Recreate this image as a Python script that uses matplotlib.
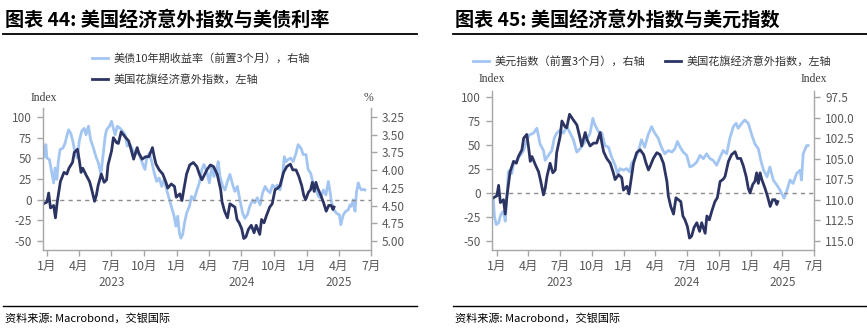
import matplotlib
matplotlib.use('Agg')
import matplotlib.pyplot as plt
import matplotlib.transforms as mtransforms
from matplotlib.lines import Line2D
import pandas as pd

plt.rcParams['font.family'] = ['Noto Sans CJK SC', 'DejaVu Sans']
plt.rcParams['axes.unicode_minus'] = False

# ---------------- data ----------------
# Citi US economic surprise index (left axis, both charts)
surprise_dates = [
    "2022-12-22", "2023-01-01", "2023-01-06", "2023-01-11", "2023-01-20", "2023-01-25", "2023-01-30",
    "2023-02-08", "2023-02-18", "2023-02-26", "2023-03-04", "2023-03-14", "2023-03-19", "2023-03-28",
    "2023-04-02", "2023-04-07", "2023-04-12", "2023-04-21", "2023-05-01", "2023-05-06", "2023-05-10",
    "2023-05-15", "2023-05-20", "2023-05-25", "2023-06-03", "2023-06-11", "2023-06-18", "2023-06-22",
    "2023-07-02", "2023-07-07", "2023-07-16", "2023-07-21", "2023-07-29", "2023-08-09", "2023-08-19",
    "2023-08-27", "2023-09-02", "2023-09-12", "2023-09-17", "2023-09-26", "2023-10-06", "2023-10-15",
    "2023-10-25", "2023-10-30", "2023-11-04", "2023-11-13", "2023-11-23", "2023-12-02", "2023-12-07",
    "2023-12-17", "2023-12-26", "2023-12-31", "2024-01-10", "2024-01-16", "2024-01-22", "2024-01-29",
    "2024-02-07", "2024-02-17", "2024-02-27", "2024-03-05", "2024-03-12", "2024-03-17", "2024-03-26",
    "2024-04-05", "2024-04-14", "2024-04-24", "2024-05-04", "2024-05-08", "2024-05-15", "2024-05-23",
    "2024-05-30", "2024-06-06", "2024-06-13", "2024-06-19", "2024-06-25", "2024-07-02", "2024-07-08",
    "2024-07-14", "2024-07-21", "2024-07-29", "2024-08-06", "2024-08-12", "2024-08-22", "2024-08-27",
    "2024-09-03", "2024-09-10", "2024-09-19", "2024-09-26", "2024-10-04", "2024-10-12", "2024-10-18",
    "2024-10-28", "2024-11-06", "2024-11-16", "2024-11-23", "2024-12-02", "2024-12-10", "2024-12-18",
    "2024-12-24", "2024-12-29", "2025-01-06", "2025-01-12", "2025-01-17", "2025-01-22", "2025-01-27",
    "2025-02-01", "2025-02-10", "2025-02-17", "2025-02-25", "2025-03-04", "2025-03-11", "2025-03-16",
    "2025-03-19",
]
surprise_vals = [
    -5, -3, 8, -10, -7, -22, -3,
    22, 33, 31, 38, 45, 57, 61,
    48, 33, 38, 30, 22, 14, 7,
    -2, 5, 17, 31, 21, 24, 42,
    59, 75, 69, 68, 82, 76, 71,
    59, 49, 63, 56, 49, 52, 52,
    63, 52, 43, 36, 31, 21, 14,
    19, 16, 3, 7, -1, 14, 31,
    42, 45, 40, 31, 24, 28, 36,
    42, 40, 31, 12, -3, -14, -22,
    -5, -7, -9, -24, -28, -35, -47,
    -45, -36, -31, -40, -31, -42, -24,
    -28, -19, -9, -5, 12, 14, 17,
    33, 40, 43, 36, 36, 28, 17,
    5, 0, 9, 12, 21, 10, 21,
    14, 5, -3, -14, -7, -7, -12,
    -9,
]

# US 10Y Treasury yield, led 3 months (right axis, chart 44)
ust_dates = [
    "2022-12-25", "2022-12-29", "2023-01-01", "2023-01-08", "2023-01-15", "2023-01-20", "2023-01-24",
    "2023-01-29", "2023-02-02", "2023-02-07", "2023-02-15", "2023-02-21", "2023-02-26", "2023-03-03",
    "2023-03-09", "2023-03-15", "2023-03-21", "2023-03-28", "2023-04-02", "2023-04-09", "2023-04-16",
    "2023-04-21", "2023-04-28", "2023-05-04", "2023-05-12", "2023-05-19", "2023-05-26", "2023-06-02",
    "2023-06-07", "2023-06-14", "2023-06-18", "2023-06-26", "2023-07-02", "2023-07-07", "2023-07-12",
    "2023-07-18", "2023-07-26", "2023-08-02", "2023-08-09", "2023-08-15", "2023-08-23", "2023-08-30",
    "2023-09-06", "2023-09-13", "2023-09-20", "2023-09-28", "2023-10-04", "2023-10-09", "2023-10-16",
    "2023-10-23", "2023-10-29", "2023-11-06", "2023-11-13", "2023-11-20", "2023-11-27", "2023-12-04",
    "2023-12-12", "2023-12-18", "2023-12-25", "2023-12-30", "2024-01-04", "2024-01-09", "2024-01-13",
    "2024-01-18", "2024-01-23", "2024-01-29", "2024-02-06", "2024-02-12", "2024-02-19", "2024-02-26",
    "2024-03-05", "2024-03-12", "2024-03-18", "2024-03-26", "2024-04-02", "2024-04-09", "2024-04-15",
    "2024-04-23", "2024-04-27", "2024-05-02", "2024-05-10", "2024-05-16", "2024-05-23", "2024-05-30",
    "2024-06-07", "2024-06-13", "2024-06-20", "2024-06-27", "2024-07-05", "2024-07-11", "2024-07-18",
    "2024-07-25", "2024-08-02", "2024-08-08", "2024-08-15", "2024-08-23", "2024-08-30", "2024-09-06",
    "2024-09-12", "2024-09-20", "2024-09-27", "2024-10-04", "2024-10-10", "2024-10-18", "2024-10-25",
    "2024-10-30", "2024-11-04", "2024-11-10", "2024-11-17", "2024-11-24", "2024-12-02", "2024-12-08",
    "2024-12-16", "2024-12-22", "2024-12-30", "2025-01-05", "2025-01-12", "2025-01-19", "2025-01-27",
    "2025-02-03", "2025-02-09", "2025-02-17", "2025-02-24", "2025-03-03", "2025-03-07", "2025-03-12",
    "2025-03-19", "2025-03-26", "2025-04-03", "2025-04-07", "2025-04-14", "2025-04-21", "2025-04-28",
    "2025-05-03", "2025-05-07", "2025-05-12", "2025-05-17", "2025-05-21", "2025-05-26", "2025-05-31",
    "2025-06-04", "2025-06-09", "2025-06-14",
]
ust_vals = [
    3.81, 3.64, 3.83, 3.85, 4.04, 4.18, 3.97,
    4.13, 3.88, 3.71, 3.69, 3.62, 3.52, 3.43,
    3.48, 3.59, 3.76, 3.83, 3.59, 3.45, 3.41,
    3.50, 3.38, 3.57, 3.69, 3.81, 3.90, 4.06,
    3.83, 3.52, 3.43, 3.38, 3.31, 3.41, 3.50,
    3.38, 3.41, 3.45, 3.50, 3.66, 3.64, 3.71,
    3.78, 3.73, 3.81, 3.92, 3.99, 3.83, 3.76,
    3.88, 4.02, 4.16, 4.11, 4.23, 4.13, 4.28,
    4.42, 4.53, 4.65, 4.79, 4.65, 4.89, 4.96,
    4.91, 4.75, 4.61, 4.51, 4.37, 4.42, 4.30,
    4.18, 3.99, 3.92, 4.02, 4.18, 3.95, 4.09,
    3.99, 3.88, 4.09, 4.23, 4.28, 4.16, 4.06,
    4.21, 4.30, 4.23, 4.42, 4.61, 4.68, 4.63,
    4.51, 4.42, 4.46, 4.39, 4.49, 4.32, 4.23,
    4.28, 4.32, 4.21, 4.25, 4.21, 4.28, 4.09,
    3.81, 3.88, 3.85, 3.83, 3.88, 3.76, 3.64,
    3.69, 3.78, 3.78, 3.99, 4.04, 4.18, 4.28,
    4.37, 4.39, 4.28, 4.35, 4.16, 4.28, 4.46,
    4.56, 4.61, 4.63, 4.77, 4.63, 4.58, 4.56,
    4.49, 4.51, 4.42, 4.58, 4.32, 4.18, 4.25,
    4.28, 4.27, 4.28,
]

# US dollar index, led 3 months (right axis, chart 45)
dxy_dates = [
    "2022-12-22", "2022-12-25", "2022-12-30", "2023-01-06", "2023-01-11", "2023-01-15", "2023-01-20",
    "2023-01-25", "2023-01-30", "2023-02-03", "2023-02-08", "2023-02-13", "2023-02-18", "2023-02-27",
    "2023-03-09", "2023-03-19", "2023-03-28", "2023-04-05", "2023-04-16", "2023-04-26", "2023-05-01",
    "2023-05-05", "2023-05-15", "2023-05-20", "2023-05-29", "2023-06-08", "2023-06-15", "2023-06-22",
    "2023-07-02", "2023-07-11", "2023-07-21", "2023-07-31", "2023-08-09", "2023-08-19", "2023-08-28",
    "2023-09-07", "2023-09-16", "2023-09-26", "2023-10-04", "2023-10-10", "2023-10-20", "2023-10-30",
    "2023-11-08", "2023-11-18", "2023-11-27", "2023-12-07", "2023-12-14", "2023-12-21", "2023-12-31",
    "2024-01-09", "2024-01-18", "2024-01-23", "2024-02-02", "2024-02-11", "2024-02-21", "2024-03-01",
    "2024-03-11", "2024-03-21", "2024-03-30", "2024-04-09", "2024-04-18", "2024-04-28", "2024-05-08",
    "2024-05-18", "2024-05-27", "2024-06-03", "2024-06-11", "2024-06-20", "2024-06-30", "2024-07-09",
    "2024-07-19", "2024-07-29", "2024-08-07", "2024-08-17", "2024-08-26", "2024-09-05", "2024-09-14",
    "2024-09-24", "2024-10-04", "2024-10-13", "2024-10-23", "2024-11-01", "2024-11-11", "2024-11-19",
    "2024-11-25", "2024-12-05", "2024-12-14", "2024-12-24", "2025-01-03", "2025-01-12", "2025-01-22",
    "2025-01-29", "2025-02-06", "2025-02-16", "2025-02-24", "2025-03-06", "2025-03-16", "2025-03-25",
    "2025-04-06", "2025-04-13", "2025-04-23", "2025-05-02", "2025-05-12", "2025-05-22", "2025-05-26",
    "2025-05-31", "2025-06-10", "2025-06-14",
]
dxy_vals = [
    110.0, 112.0, 113.0, 112.8, 112.0, 111.6, 111.4,
    112.6, 109.6, 106.6, 106.4, 106.8, 105.6, 105.2,
    104.6, 104.0, 102.7, 102.1, 101.9, 101.3, 102.3,
    103.2, 104.0, 105.2, 104.6, 104.0, 102.5, 101.9,
    101.5, 101.9, 101.1, 101.9, 102.7, 104.2, 103.8,
    103.2, 102.7, 101.9, 100.1, 100.9, 101.7, 101.9,
    103.4, 103.6, 104.8, 105.8, 106.8, 106.2, 106.4,
    106.2, 106.6, 105.6, 105.0, 104.2, 102.7, 103.6,
    102.1, 101.1, 101.9, 102.5, 103.6, 104.4, 104.0,
    104.2, 103.8, 102.9, 103.6, 104.2, 104.6, 106.0,
    105.8, 105.4, 104.6, 105.0, 104.4, 105.0, 105.2,
    105.8, 104.8, 104.0, 104.4, 102.5, 101.1, 100.7,
    101.3, 100.7, 100.3, 100.7, 102.1, 103.2, 103.8,
    105.2, 106.4, 107.2, 106.0, 107.6, 108.2, 108.8,
    109.8, 109.0, 107.6, 108.0, 106.8, 106.4, 107.6,
    104.4, 103.4, 103.4,
]

month_ticks = ["2023-01-01", "2023-04-01", "2023-07-01", "2023-10-01",
               "2024-01-01", "2024-04-01", "2024-07-01", "2024-10-01",
               "2025-01-01", "2025-04-01", "2025-07-01"]
month_labels = ["1月", "4月", "7月", "10月", "1月", "4月", "7月", "10月", "1月", "4月", "7月"]
year_labels = ["2023", "2024", "2025"]
year_pos = ["2023-07-01", "2024-07-01", "2025-04-01"]

left_ticks = [-50, -25, 0, 25, 50, 75, 100]
ust_ticks = [3.25, 3.50, 3.75, 4.00, 4.25, 4.50, 4.75, 5.00]
dxy_ticks = [97.5, 100.0, 102.5, 105.0, 107.5, 110.0, 112.5, 115.0]

# ---------------- style ----------------
DARK = '#2c3464'
LIGHT = '#a3c5f1'
SPINE = '#a6a6a6'
TICKTXT = '#595959'

W, H = 867, 331
fig = plt.figure(figsize=(W / 100, H / 100), dpi=100)
fig.patch.set_facecolor('white')


def fx(px):
    return px / W


def fy(py):
    return 1 - py / H


def build(rect, xmin, xmax, ylim_l, ylim_r, rticks, rfmt, light_dates, light_vals):
    ax = fig.add_axes(rect)
    ax2 = ax.twinx()
    ax.set_zorder(ax2.get_zorder() + 1)
    ax.patch.set_visible(False)

    ld = pd.to_datetime(light_dates)
    ax2.plot(ld, light_vals, color=LIGHT, lw=2.0, solid_joinstyle='round')
    sd = pd.to_datetime(surprise_dates)
    ax.plot(sd, surprise_vals, color=DARK, lw=2.0, solid_joinstyle='round')
    ax.axhline(0, color='#8c8c8c', lw=1.0, ls=(0, (3, 3)), zorder=0)

    ax.set_xlim(pd.Timestamp(xmin), pd.Timestamp(xmax))
    ax.set_ylim(*ylim_l)
    ax2.set_ylim(*ylim_r)

    ax.set_yticks(left_ticks)
    ax.set_yticklabels([str(v) for v in left_ticks])
    ax2.set_yticks(rticks)
    ax2.set_yticklabels([rfmt.format(v) for v in rticks])

    mt = pd.to_datetime(month_ticks)
    ax.set_xticks(mt)
    ax.set_xticklabels(month_labels)

    for a in (ax, ax2):
        for s in a.spines.values():
            s.set_color(SPINE)
            s.set_linewidth(1.0)
        a.spines['top'].set_visible(False)
    ax.spines['right'].set_visible(False)
    ax2.spines['left'].set_visible(False)
    ax2.spines['bottom'].set_visible(False)

    ax.tick_params(axis='y', length=4, width=1, color=SPINE, pad=4,
                   labelsize=8.5, labelcolor=TICKTXT)
    ax2.tick_params(axis='y', length=4, width=1, color=SPINE, pad=4,
                    labelsize=8.5, labelcolor=TICKTXT)
    ax.tick_params(axis='x', length=4, width=1, color=SPINE, pad=3,
                   labelsize=9, labelcolor=TICKTXT)

    tr = mtransforms.blended_transform_factory(ax.transData, fig.transFigure)
    for lab, pos in zip(year_labels, year_pos):
        ax.text(pd.Timestamp(pos), fy(283), lab, transform=tr, ha='center',
                va='center', fontsize=8.5, color=TICKTXT)
    return ax, ax2


# chart 44 (left)
build([fx(43), fy(250), fx(371 - 43), (250 - 108) / H],
      "2022-12-21", "2025-07-01", (-60.9, 110.9), (5.127, 3.123),
      ust_ticks, "{:.2f}", ust_dates, ust_vals)

# chart 45 (right)
build([fx(492), fy(250), fx(814 - 492), (250 - 91) / H],
      "2022-12-18", "2025-07-01", (-59.4, 106.25), (116.1, 96.77),
      dxy_ticks, "{:.1f}", dxy_dates, dxy_vals)

# titles and rules
fig.text(fx(5), fy(20), "图表 44: 美国经济意外指数与美债利率", fontsize=13.8,
         fontweight='bold', va='center', ha='left', color='black')
fig.text(fx(455), fy(20), "图表 45: 美国经济意外指数与美元指数", fontsize=13.8,
         fontweight='bold', va='center', ha='left', color='black')
for x0, x1 in ((3, 417), (453, 867)):
    fig.add_artist(Line2D([fx(x0), fx(x1)], [fy(34), fy(34)], color='black',
                          lw=1.3, transform=fig.transFigure))
    fig.add_artist(Line2D([fx(x0), fx(x1)], [fy(306), fy(306)], color='black',
                          lw=1.0, transform=fig.transFigure))

fig.text(fx(5), fy(318), "资料来源: Macrobond，交银国际", fontsize=8, style='italic',
         va='center', ha='left', color='black')
fig.text(fx(455), fy(318), "资料来源: Macrobond，交银国际", fontsize=8, style='italic',
         va='center', ha='left', color='black')

# axis unit labels
serif = ['Liberation Serif', 'DejaVu Serif']
fig.text(fx(44), fy(98), "Index", fontsize=8.5, family=serif, color='#404040',
         ha='center', va='center')
fig.text(fx(369), fy(98), "%", fontsize=8.5, family=serif, color='#404040',
         ha='center', va='center')
fig.text(fx(492), fy(79), "Index", fontsize=8.5, family=serif, color='#404040',
         ha='center', va='center')
fig.text(fx(814), fy(79), "Index", fontsize=8.5, family=serif, color='#404040',
         ha='center', va='center')


# legends
def leg(x, y, color, label):
    fig.legend(handles=[Line2D([], [], color=color, lw=2.0)], labels=[label],
               loc='center left', bbox_to_anchor=(fx(x), fy(y)),
               bbox_transform=fig.transFigure, frameon=False, fontsize=8,
               borderpad=0, borderaxespad=0, handlelength=1.45,
               handletextpad=0.45, labelcolor='#333333')


leg(92, 58, LIGHT, "美债10年期收益率（前置3个月），右轴")
leg(92, 79, DARK, "美国花旗经济意外指数，左轴")
leg(473, 61, LIGHT, "美元指数（前置3个月），右轴")
leg(665, 61, DARK, "美国花旗经济意外指数，左轴")

fig.savefig("out.png", dpi=100, facecolor='white')
